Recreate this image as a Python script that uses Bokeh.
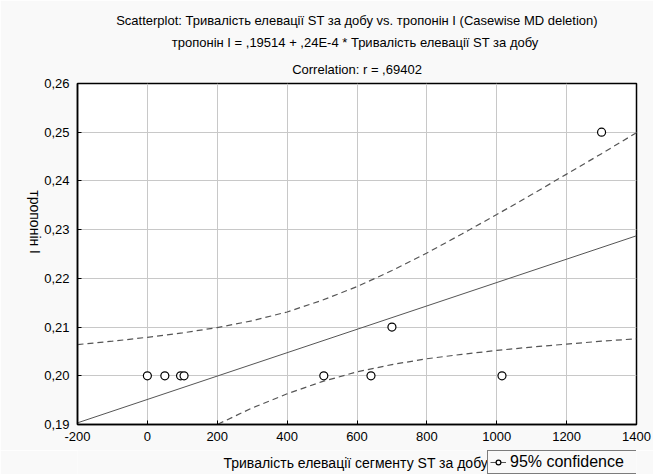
import math
from bokeh.plotting import figure
from bokeh.layouts import column
from bokeh.models import Range1d, FixedTicker, Legend, LegendItem, Title, Label
from bokeh.embed import file_html
from bokeh.resources import INLINE

# ---- data ----
x_vals = [0, 50, 95, 105, 505, 640, 700, 1015, 1300]
y_vals = [0.20, 0.20, 0.20, 0.20, 0.20, 0.20, 0.21, 0.20, 0.25]

# regression coefficients shown in the title
intercept = 0.19514
slope = 0.000024

# 95% confidence band
band_x = [-200, -100, 0, 100, 200, 300, 400, 500, 600, 700, 800, 900, 1000, 1100, 1200, 1300, 1400]
band_upper = [0.2064, 0.2071, 0.2079, 0.2088, 0.2099, 0.2113, 0.2131, 0.2155, 0.2183, 0.2216,
              0.2252, 0.2291, 0.2331, 0.2372, 0.2414, 0.2456, 0.2499]
band_lower = [0.1743, 0.1784, 0.1824, 0.1863, 0.1900, 0.1934, 0.1963, 0.1988, 0.2008, 0.2023,
              0.2035, 0.2044, 0.2052, 0.2059, 0.2065, 0.2071, 0.2076]

x_ticks = [-200, 0, 200, 400, 600, 800, 1000, 1200, 1400]
x_tick_labels = ["-200", "0", "200", "400", "600", "800", "1000", "1200", "1400"]
y_ticks = [0.19, 0.20, 0.21, 0.22, 0.23, 0.24, 0.25, 0.26]
y_tick_labels = ["0,19", "0,20", "0,21", "0,22", "0,23", "0,24", "0,25", "0,26"]

title_lines = [
    "Scatterplot: Тривалість елевації ST за добу vs. тропонін I (Casewise MD deletion)",
    "тропонін I = ,19514 + ,24E-4 * Тривалість елевації  ST за добу",
    "Correlation: r = ,69402",
]
x_title = "Тривалість елевації сегменту ST за добу"
y_title = "тропонін I"
legend_label = "95% confidence"

FONT = "Liberation Sans"
BG = "#f9f9f9"
LINE = "#555555"
NAN = float("nan")

# ---------------- main plot ----------------
p = figure(width=653, height=450, output_backend="svg", toolbar_location=None,
           x_range=Range1d(-200, 1400), y_range=Range1d(0.19, 0.26),
           min_border_left=77, min_border_right=17, min_border_top=83, min_border_bottom=26)
p.background_fill_color = "white"
p.border_fill_color = BG
p.outline_line_color = "black"
p.outline_line_width = 1.5

for ax, ticks, labels in ((p.xaxis[0], x_ticks, x_tick_labels), (p.yaxis[0], y_ticks, y_tick_labels)):
    ax.ticker = FixedTicker(ticks=ticks)
    ax.major_label_overrides = {t: l for t, l in zip(ticks, labels)}
    ax.major_label_text_font = FONT
    ax.major_label_text_font_size = "13px"
    ax.major_label_text_color = "black"
    ax.axis_line_color = "black"
    ax.axis_line_width = 1.5
    ax.major_tick_in = 4
    ax.major_tick_out = 0
    ax.minor_tick_line_color = None
    ax.major_tick_line_color = "black"
p.xaxis.major_label_standoff = 7
p.yaxis.major_label_standoff = 8

# y axis title (reads top-to-bottom as in the reference)
yax = p.yaxis[0]
yax.axis_label = y_title
yax.axis_label_text_font = FONT
yax.axis_label_text_font_size = "14px"
yax.axis_label_text_font_style = "normal"
yax.axis_label_text_color = "black"
yax.axis_label_standoff = 6
if "axis_label_orientation" in yax.properties():
    yax.axis_label_orientation = -math.pi / 2

p.xgrid.ticker = FixedTicker(ticks=x_ticks)
p.ygrid.ticker = FixedTicker(ticks=y_ticks)
p.grid.grid_line_color = "#c8c8c8"
p.grid.grid_line_width = 1

# regression line
reg_x = [-200, 1400]
reg_y = [intercept + slope * v for v in reg_x]
p.line(reg_x, reg_y, line_color=LINE, line_width=1)

# confidence bands
p.line(band_x, band_upper, line_color=LINE, line_width=1.2, line_dash="6 4")
p.line(band_x, band_lower, line_color=LINE, line_width=1.2, line_dash="6 4")

# points
p.scatter(x_vals, y_vals, marker="circle", size=8, fill_color="white",
          line_color="black", line_width=1.2)

# three title lines, stacked above the plot (added from nearest to farthest)
for i, txt in enumerate(reversed(title_lines)):
    p.add_layout(Title(text=txt, align="center", offset=-16, text_font=FONT,
                       text_font_size="13px", text_font_style="normal", text_color="black",
                       standoff=14 if i == 0 else 5, background_fill_color=None), "above")

# ---------------- bottom strip: x title + legend ----------------
q = figure(width=653, height=24, output_backend="svg", toolbar_location=None,
           x_range=Range1d(0, 1), y_range=Range1d(0, 1),
           x_axis_type=None, y_axis_type=None, min_border=0)
q.background_fill_color = BG
q.border_fill_color = BG
q.outline_line_color = None

q.add_layout(Label(x=146, y=12, x_units="screen", y_units="screen", text=x_title,
                   text_align="left", text_baseline="middle",
                   text_font=FONT, text_font_size="14px", text_color="black"))

# legend sample glyphs (no visible data)
leg_line = q.line(x=[NAN], y=[NAN], line_color=LINE, line_width=1)
leg_pts = q.scatter(x=[NAN], y=[NAN], marker="circle", size=7, fill_color="white",
                    line_color="black", line_width=1.2)
legend = Legend(items=[LegendItem(label=legend_label, renderers=[leg_line, leg_pts])],
                location=(410, 0), label_text_font=FONT, label_text_font_size="16px",
                label_text_color="black", label_width=200, label_height=14,
                border_line_color="black", border_line_width=1,
                background_fill_color=BG, background_fill_alpha=1,
                glyph_width=16, glyph_height=12, padding=2, spacing=0,
                label_standoff=4, margin=0)
q.add_layout(legend, "center")

layout = column(p, q, spacing=0)
open("out.html", "w").write(file_html(layout, INLINE))
